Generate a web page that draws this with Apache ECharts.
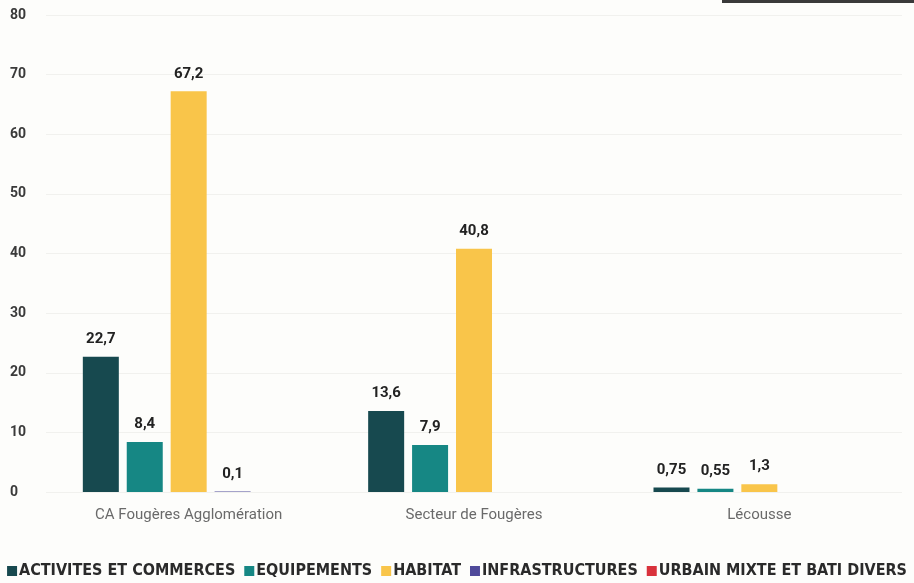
<!DOCTYPE html>
<html>
<head>
<meta charset="utf-8">
<script src="https://cdn.jsdelivr.net/npm/echarts@6/dist/echarts.min.js"></script>
<style>
html,body{margin:0;padding:0;background:#fdfdfb;}
#chart{width:914px;height:583px;}
</style>
</head>
<body>
<div id="chart"></div>
<script>
const categories = ['CA Fougères Agglomération', 'Secteur de Fougères', 'Lécousse'];
const seriesNames = ['ACTIVITES ET COMMERCES', 'EQUIPEMENTS', 'HABITAT', 'INFRASTRUCTURES', 'URBAIN MIXTE ET BATI DIVERS'];
const activites = [22.7, 13.6, 0.75];
const equipements = [8.4, 7.9, 0.55];
const habitat = [67.2, 40.8, 1.3];
const infrastructures = [0.1, null, null];
const urbain = [null, null, null];
const yTicks = [0, 10, 20, 30, 40, 50, 60, 70, 80];

const colors = ['#17494f', '#168784', '#f9c54a', '#4f4a9a', '#d9323c'];
const values = [activites, equipements, habitat, infrastructures, urbain];

const chart = echarts.init(document.getElementById('chart'));
const fmt = p => (p.value === null || p.value === undefined) ? '' : String(p.value).replace('.', ',');

chart.setOption({
  backgroundColor: '#fdfdfb',
  animation: false,
  color: colors,
  grid: { left: 46, right: 12, top: 15, bottom: 91, containLabel: false },
  graphic: [{
    type: 'rect', left: 722, top: 0,
    shape: { width: 192, height: 3 },
    style: { fill: '#3a3a3a' }
  }],
  legend: {
    bottom: 4,
    left: 'center',
    width: 914,
    padding: 0,
    itemWidth: 10,
    itemHeight: 10,
    itemGap: 9,
    icon: 'rect',
    textStyle: { fontFamily: 'DejaVu Sans Condensed, sans-serif', fontSize: 16, fontWeight: 'bold', color: '#2a2a2a', padding: [0, 0, 0, -3] },
    data: seriesNames
  },
  xAxis: {
    type: 'category',
    data: categories,
    axisLine: { show: false },
    axisTick: { show: false },
    axisLabel: { color: '#6a6a6a', fontSize: 15, margin: 16, fontFamily: 'Roboto, sans-serif' }
  },
  yAxis: {
    type: 'value',
    min: 0, max: 80, interval: 10,
    axisLine: { show: false },
    axisTick: { show: false },
    splitLine: { lineStyle: { color: '#f1f1ee', width: 1 } },
    axisLabel: { color: '#3a3a3a', fontSize: 14, fontWeight: 'bold', margin: 16, fontFamily: 'Roboto, sans-serif', align: 'left', padding: [0, 0, 0, -20] }
  },
  series: seriesNames.map((n, i) => ({
    name: n,
    type: 'bar',
    data: values[i],
    barWidth: 36,
    barGap: '22%',
    itemStyle: { color: colors[i] },
    label: {
      show: true,
      position: 'top',
      distance: 10,
      formatter: fmt,
      color: '#222',
      fontSize: 15,
      fontWeight: 'bold',
      fontFamily: 'Roboto, sans-serif'
    }
  }))
});
</script>
</body>
</html>
